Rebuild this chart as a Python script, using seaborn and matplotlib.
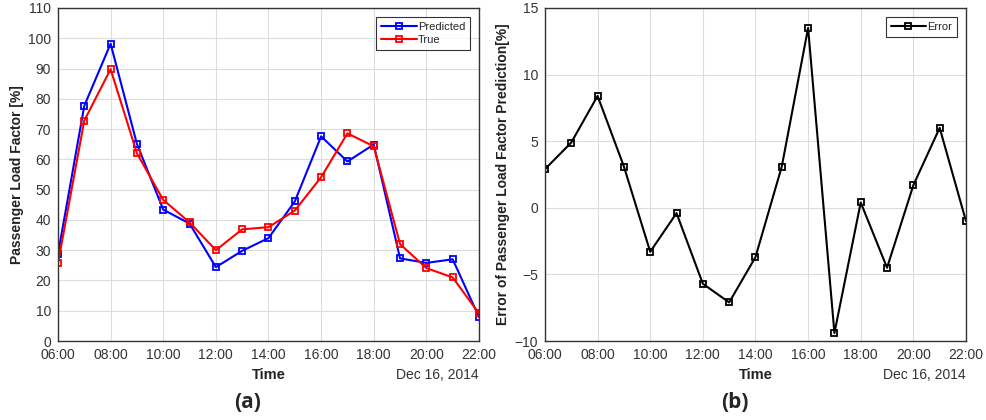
import matplotlib
matplotlib.use('Agg')
import matplotlib.pyplot as plt
import seaborn as sns
import pandas as pd

hours = [6, 7, 8, 9, 10, 11, 12, 13, 14, 15, 16, 17, 18, 19, 20, 21, 22]
predicted = [28.7, 77.7, 98.2, 65.1, 43.4, 38.8, 24.4, 29.8, 34.0, 46.1, 67.6, 59.3, 64.9, 27.3, 25.8, 27.0, 7.9]
true_vals = [25.7, 72.8, 89.8, 62.0, 46.6, 39.2, 30.0, 36.9, 37.6, 43.1, 54.1, 68.6, 64.3, 32.0, 24.1, 21.0, 9.1]
error = [2.9, 4.9, 8.4, 3.1, -3.3, -0.4, -5.7, -7.1, -3.7, 3.1, 13.5, -9.4, 0.4, -4.5, 1.7, 6.0, -1.0]
tick_hours = [6, 8, 10, 12, 14, 16, 18, 20, 22]
tick_labels = ['06:00', '08:00', '10:00', '12:00', '14:00', '16:00', '18:00', '20:00', '22:00']

sns.set_style('white')
plt.rcParams['font.family'] = ['Liberation Sans', 'DejaVu Sans']

df = pd.DataFrame({'hour': hours * 2,
                   'value': predicted + true_vals,
                   'series': ['Predicted'] * len(hours) + ['True'] * len(hours)})
df_err = pd.DataFrame({'hour': hours, 'value': error, 'series': ['Error'] * len(hours)})

fig = plt.figure(figsize=(9.86, 4.2), dpi=100)
ax1 = fig.add_axes([0.0588, 0.188, 0.427, 0.793])
ax2 = fig.add_axes([0.5527, 0.188, 0.427, 0.793])

mk = dict(marker='s', markersize=5, markerfacecolor='none', markeredgewidth=1.3, linewidth=1.5, legend=False)
sns.lineplot(data=df, x='hour', y='value', hue='series', palette={'Predicted': '#0000ff', 'True': '#ff0000'},
             ax=ax1, **mk)
for line, c, lab in zip(ax1.lines, ['#0000ff', '#ff0000'], ['Predicted', 'True']):
    line.set_markeredgecolor(c)
    line.set_label(lab)
sns.lineplot(data=df_err, x='hour', y='value', hue='series', palette={'Error': 'black'}, ax=ax2, **mk)
for line in ax2.lines:
    line.set_markeredgecolor('black')
    line.set_label('Error')

def style(ax, ylim, yticks, ylabel, panel):
    ax.set_xlim(6, 22)
    ax.set_ylim(*ylim)
    ax.set_xticks(tick_hours)
    ax.set_xticklabels(tick_labels)
    ax.set_yticks(yticks)
    ax.grid(True, color='#dcdcdc', linewidth=0.8)
    ax.tick_params(direction='in', length=4, labelsize=10, labelcolor='#333333', color='#333333', pad=5)
    for s in ax.spines.values():
        s.set_color('#333333')
        s.set_linewidth(1.0)
    ax.set_xlabel('Time', fontsize=10.5, fontweight='bold', color='#222222', labelpad=4)
    ax.set_ylabel(ylabel, fontsize=10, fontweight='bold', color='#222222', labelpad=3)
    ax.text(1.0, -0.102, 'Dec 16, 2014', transform=ax.transAxes, ha='right', va='center',
            fontsize=10, color='#333333')
    ax.text(0.45, -0.186, panel, transform=ax.transAxes, ha='center', va='center',
            fontsize=15, fontweight='bold', family='Open Sans')
    leg = ax.legend(handles=ax.lines, loc='upper right', fontsize=8, frameon=True, fancybox=False,
                    edgecolor='black', handlelength=3.2, borderpad=0.45, labelspacing=0.3,
                    handletextpad=0.1, borderaxespad=0.8)
    leg.get_frame().set_linewidth(0.8)

style(ax1, (0, 110), range(0, 111, 10), 'Passenger Load Factor [%]', '(a)')
style(ax2, (-10, 15), range(-10, 16, 5), 'Error of Passenger Load Factor Prediction[%]', '(b)')

fig.savefig('out.png', dpi=100)
